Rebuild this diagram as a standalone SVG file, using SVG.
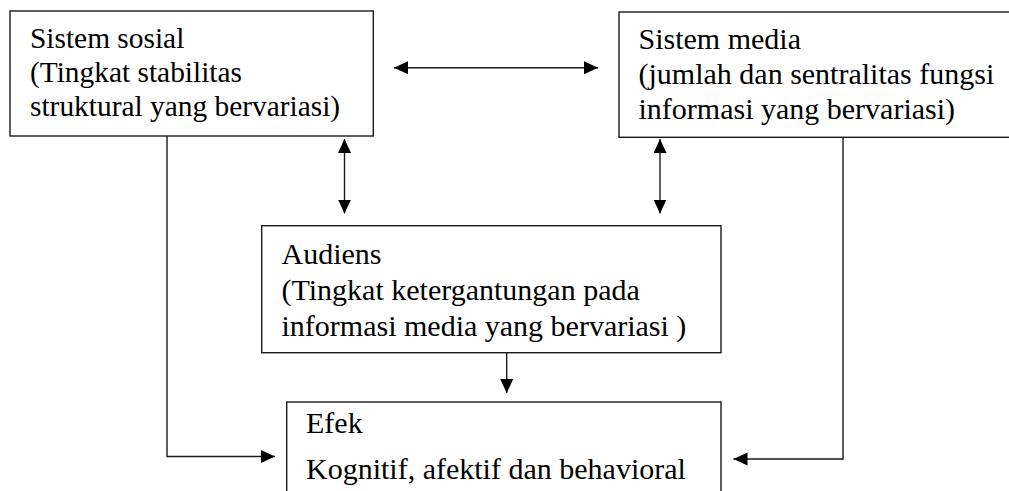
<svg xmlns="http://www.w3.org/2000/svg" width="1009" height="491" viewBox="0 0 1009 491">
  <style>
    .box { fill: #ffffff; stroke: #1a1a1a; stroke-width: 1.4; }
    .conn { fill: none; stroke: #1a1a1a; stroke-width: 1.4; }
    text { font-family: 'Liberation Serif', 'Times New Roman', Times, serif; }
  </style>
  <defs>
    <marker id="ah" markerUnits="userSpaceOnUse" markerWidth="15" markerHeight="14" refX="14" refY="6.5" orient="auto-start-reverse">
      <path d="M0,0 L14,6.5 L0,13 Z" fill="#000000"/>
    </marker>
  </defs>
  <rect width="1009" height="491" fill="#ffffff"/>

  <g id="connectors">
    <line class="conn" x1="394" y1="67.7" x2="598" y2="67.7" marker-start="url(#ah)" marker-end="url(#ah)"/>
    <line class="conn" x1="344.5" y1="139" x2="344.5" y2="213.5" marker-start="url(#ah)" marker-end="url(#ah)"/>
    <line class="conn" x1="660" y1="139" x2="660" y2="213.5" marker-start="url(#ah)" marker-end="url(#ah)"/>
    <line class="conn" x1="506.7" y1="352.7" x2="506.7" y2="393" marker-end="url(#ah)"/>
    <polyline class="conn" points="167,136 167,456.5 275,456.5" marker-end="url(#ah)"/>
    <polyline class="conn" points="843,137.3 843,459 733.5,459" marker-end="url(#ah)"/>
  </g>

  <g id="node-sistem-sosial" font-family="Liberation Serif, serif" font-size="29.4" fill="#000000">
    <rect class="box" x="10" y="11" width="363.3" height="125"/>
    <text x="30" y="47.5">Sistem sosial</text>
    <text x="30" y="81.5">(Tingkat stabilitas</text>
    <text x="30" y="116">struktural yang bervariasi)</text>
  </g>

  <g id="node-sistem-media" font-family="Liberation Serif, serif" font-size="30" fill="#000000">
    <rect class="box" x="619" y="12" width="400" height="125.3"/>
    <text x="638.5" y="48.5">Sistem media</text>
    <text x="638.5" y="83.5">(jumlah dan sentralitas fungsi</text>
    <text x="638.5" y="118.5">informasi yang bervariasi)</text>
  </g>

  <g id="node-audiens" font-family="Liberation Serif, serif" font-size="30" fill="#000000">
    <rect class="box" x="261.7" y="225.7" width="459.3" height="127"/>
    <text x="281.5" y="263.5">Audiens</text>
    <text x="281.5" y="299.7">(Tingkat ketergantungan pada</text>
    <text x="281.5" y="335.7">informasi media yang bervariasi )</text>
  </g>

  <g id="node-efek" font-family="Liberation Serif, serif" font-size="30" fill="#000000">
    <rect class="box" x="286.7" y="402" width="434.3" height="120"/>
    <text x="306" y="432.5">Efek</text>
    <text x="306" y="479.3">Kognitif, afektif dan behavioral</text>
  </g>
</svg>
